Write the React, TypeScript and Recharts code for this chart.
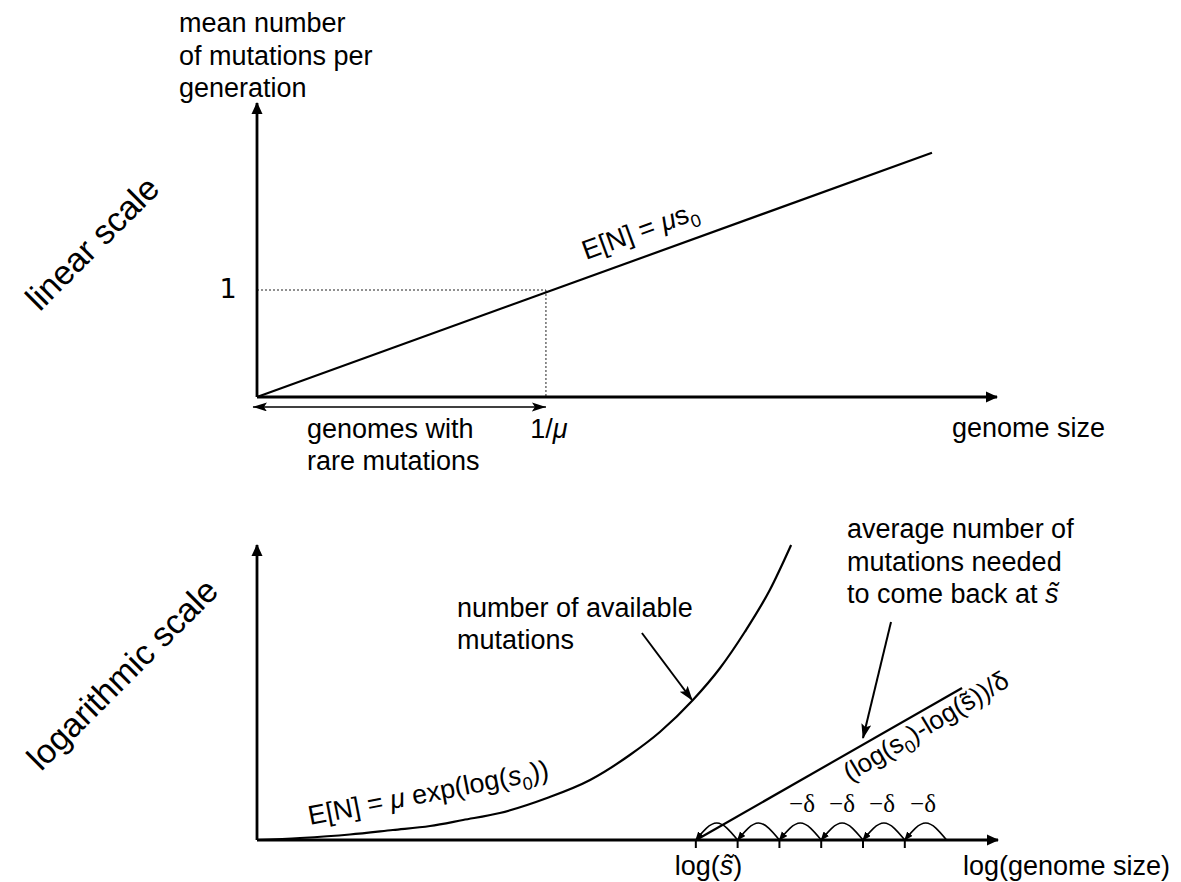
import React from 'react';
import { ComposedChart, Line, XAxis, YAxis, ReferenceLine } from 'recharts';

// top panel: genome size in units of 1/mu, mutations per generation
const linearX = [0, 2.336];
const linearY = [0, 2.283];
const topXMax = 2.561;
const topYMax = 2.748;
const unitTicks = [1];
const rareStart = -0.014;
const rareLevel = -0.093;

// bottom panel: log(genome size) in steps of delta
const expX = [0, 1.03, 2.22, 3.25, 4.14, 4.93, 5.81, 6.94, 7.97, 8.92, 9.64, 10.43, 11.08, 11.67, 12.27, 12.78];
const expY = [0, 0.2, 0.55, 1.0, 1.4, 2.0, 2.7, 4.2, 6.0, 8.5, 10.8, 14.0, 17.2, 20.8, 25.0, 29.5];
const backX = [10.55, 16.87];
const backY = [0.1, 15.2];
const stepTicks = [10.5, 11.5, 12.5, 13.5, 14.5, 15.5];
const arcEnds = [10.5, 11.5, 12.5, 13.5, 14.5, 15.5, 16.5];
const arcHeight = 1.7;
const botXMax = 17.73;
const botYMax = 29.5;
const availPointerX = [9.21, 10.41];
const availPointerY = [20.7, 14.0];
const backPointerX = [15.17, 14.5];
const backPointerY = [21.8, 10.2];
const deltaLabels = ['−δ', '−δ', '−δ', '−δ'];
const deltaLabelX = [802, 842, 882, 923];

const W = 1181;
const H = 882;
const ink = '#000';
const sans = '"Liberation Sans", Arial, Helvetica, sans-serif';
const serif = '"Liberation Serif", "Times New Roman", serif';
const sTilde = 's\u0303';

const toPts = (xs: number[], ys: number[]) => xs.map((x, i) => ({ x, y: ys[i] }));

const arcs = arcEnds.slice(0, -1).map((a, i) => {
  const b = arcEnds[i + 1];
  return [
    { x: a, y: 0 },
    { x: (a + b) / 2, y: arcHeight },
    { x: b, y: 0 },
  ];
});

const xLine = { stroke: ink, strokeWidth: 2.8, markerEnd: 'url(#axisHead)' };
const yLine = { stroke: ink, strokeWidth: 2.8, markerStart: 'url(#axisHead)' };

const OneTick = ({ x, y }: any) => (
  <text x={x - 29} y={y + 8} textAnchor="middle" fontFamily='"DejaVu Sans", sans-serif' fontSize={27} fill={ink}>
    1
  </text>
);

const InvMuTick = ({ x, y }: any) => (
  <text x={x + 3} y={y + 41} textAnchor="middle" fontFamily={sans} fontSize={27} fill={ink}>
    1/<tspan fontStyle="italic">μ</tspan>
  </text>
);

const StepTick = ({ x, y, index }: any) =>
  index === 0 ? (
    <text x={x - 21} y={y + 27} fontFamily={sans} fontSize={27} fill={ink}>
      log(<tspan fontStyle="italic">{sTilde}</tspan>)
    </text>
  ) : (
    <g />
  );

const seg = (key: string, data: any[], extra: any = {}) => (
  <Line
    key={key}
    data={data}
    dataKey="y"
    type="linear"
    stroke={ink}
    strokeWidth={2.2}
    dot={false}
    activeDot={false}
    legendType="none"
    isAnimationActive={false}
    {...extra}
  />
);

const TopPanel = () => (
  <ComposedChart
    width={W}
    height={H}
    margin={{ top: 103, left: 256, right: W - 997, bottom: H - 398 }}
    style={{ position: 'absolute', left: 0, top: 0 }}
  >
    <XAxis
      type="number"
      dataKey="x"
      domain={[0, topXMax]}
      ticks={unitTicks}
      height={1}
      tickSize={0}
      tickMargin={0}
      tickLine={false}
      axisLine={xLine}
      tick={<InvMuTick />}
    />
    <YAxis
      type="number"
      dataKey="y"
      domain={[0, topYMax]}
      ticks={unitTicks}
      width={1}
      tickSize={0}
      tickMargin={0}
      tickLine={false}
      axisLine={yLine}
      tick={<OneTick />}
    />
    {seg('guideH', [{ x: 0, y: 1 }, { x: 1, y: 1 }], { strokeWidth: 1, strokeDasharray: '2 2', stroke: '#222' })}
    {seg('guideV', [{ x: 1, y: 1 }, { x: 1, y: 0 }], { strokeWidth: 1, strokeDasharray: '2 2', stroke: '#222' })}
    {seg('linear', toPts(linearX, linearY))}
    <ReferenceLine
      segment={[{ x: rareStart, y: rareLevel }, { x: 1, y: rareLevel }]}
      ifOverflow="visible"
      stroke={ink}
      strokeWidth={1.6}
      markerStart="url(#rareHead)"
      markerEnd="url(#rareHead)"
    />
  </ComposedChart>
);

const BottomPanel = () => (
  <ComposedChart
    width={W}
    height={H}
    margin={{ top: 545, left: 256, right: W - 998, bottom: H - 841 }}
    style={{ position: 'absolute', left: 0, top: 0 }}
  >
    <XAxis
      type="number"
      dataKey="x"
      domain={[0, botXMax]}
      ticks={stepTicks}
      height={1}
      tickSize={8}
      tickMargin={0}
      tickLine={{ stroke: ink, strokeWidth: 2 }}
      axisLine={xLine}
      tick={<StepTick />}
    />
    <YAxis
      type="number"
      dataKey="y"
      domain={[0, botYMax]}
      width={1}
      tick={false}
      tickLine={false}
      axisLine={yLine}
    />
    {seg('exp', toPts(expX, expY), { type: 'monotone' })}
    {seg('back', toPts(backX, backY))}
    {arcs.map((a, i) => seg(`arc${i}`, a, { type: 'natural', strokeWidth: 1.6, markerStart: 'url(#arcHead)' }))}
    {seg('availPtr', toPts(availPointerX, availPointerY), { strokeWidth: 2, markerEnd: 'url(#ptrHead)' })}
    {seg('backPtr', toPts(backPointerX, backPointerY), { strokeWidth: 2, markerEnd: 'url(#ptrHead)' })}
  </ComposedChart>
);

const Sub = ({ children }: any) => (
  <>
    <tspan fontSize={18} dy={7}>{children}</tspan>
    <tspan dy={-7}>{'\u200b'}</tspan>
  </>
);

const Labels = () => (
  <svg width={W} height={H} style={{ position: 'absolute', left: 0, top: 0, pointerEvents: 'none' }} fontFamily={sans} fontSize={27} fill={ink}>
    <text x={179} y={32}>mean number</text>
    <text x={179} y={64.5}>of mutations per</text>
    <text x={179} y={97}>generation</text>

    <text x={92} y={243} fontSize={34} textAnchor="middle" dominantBaseline="central" transform="rotate(-45 92 243)">
      linear scale
    </text>
    <text x={122} y={674} fontSize={34} textAnchor="middle" dominantBaseline="central" transform="rotate(-45 122 674)">
      logarithmic scale
    </text>

    <text x={586} y={260} transform="rotate(-20.1 586 260)">
      E[N] = <tspan fontStyle="italic">μ</tspan>s<Sub>0</Sub>
    </text>

    <text x={307} y={438}>genomes with</text>
    <text x={307} y={470}>rare mutations</text>
    <text x={952} y={437}>genome size</text>

    <text x={457} y={617}>number of available</text>
    <text x={457} y={649}>mutations</text>

    <text x={847} y={538}>average number of</text>
    <text x={847} y={570.5}>mutations needed</text>
    <text x={847} y={603}>
      to come back at <tspan fontStyle="italic">{sTilde}</tspan>
    </text>

    <text x={310} y={825} transform="rotate(-11 310 825)">
      E[N] = <tspan fontStyle="italic">μ</tspan> exp(log(<tspan fontStyle="italic">s</tspan>
      <Sub>0</Sub>))
    </text>

    <text x={850} y={782} fontSize={26} transform="rotate(-31 850 782)">
      (log(s<Sub>0</Sub>)-log({sTilde}))/δ
    </text>

    {deltaLabels.map((d, i) => (
      <text key={i} x={deltaLabelX[i]} y={812} textAnchor="middle" fontFamily={serif} fontSize={25}>
        {d}
      </text>
    ))}

    <text x={963} y={875}>log(genome size)</text>
  </svg>
);

export default function App() {
  return (
    <div style={{ position: 'absolute', left: 0, top: 0, width: W, height: H, background: '#fff' }}>
      <svg width={0} height={0} style={{ position: 'absolute' }}>
        <defs>
          <marker id="axisHead" markerUnits="userSpaceOnUse" markerWidth={14} markerHeight={12} refX={11} refY={6} orient="auto-start-reverse">
            <path d="M0,0.5 L12,6 L0,11.5 z" fill={ink} />
          </marker>
          <marker id="rareHead" markerUnits="userSpaceOnUse" markerWidth={16} markerHeight={10} refX={14} refY={4.5} orient="auto-start-reverse">
            <path d="M0,0 L14,4.5 L0,9 L3,4.5 z" fill={ink} />
          </marker>
          <marker id="ptrHead" markerUnits="userSpaceOnUse" markerWidth={16} markerHeight={11} refX={14} refY={5} orient="auto">
            <path d="M0,0 L15,5 L0,10 L3,5 z" fill={ink} />
          </marker>
          <marker id="arcHead" markerUnits="userSpaceOnUse" markerWidth={10} markerHeight={8} refX={8} refY={3.5} orient="auto-start-reverse">
            <path d="M0,0 L9,3.5 L0,7 z" fill={ink} />
          </marker>
        </defs>
      </svg>
      <TopPanel />
      <BottomPanel />
      <Labels />
    </div>
  );
}
